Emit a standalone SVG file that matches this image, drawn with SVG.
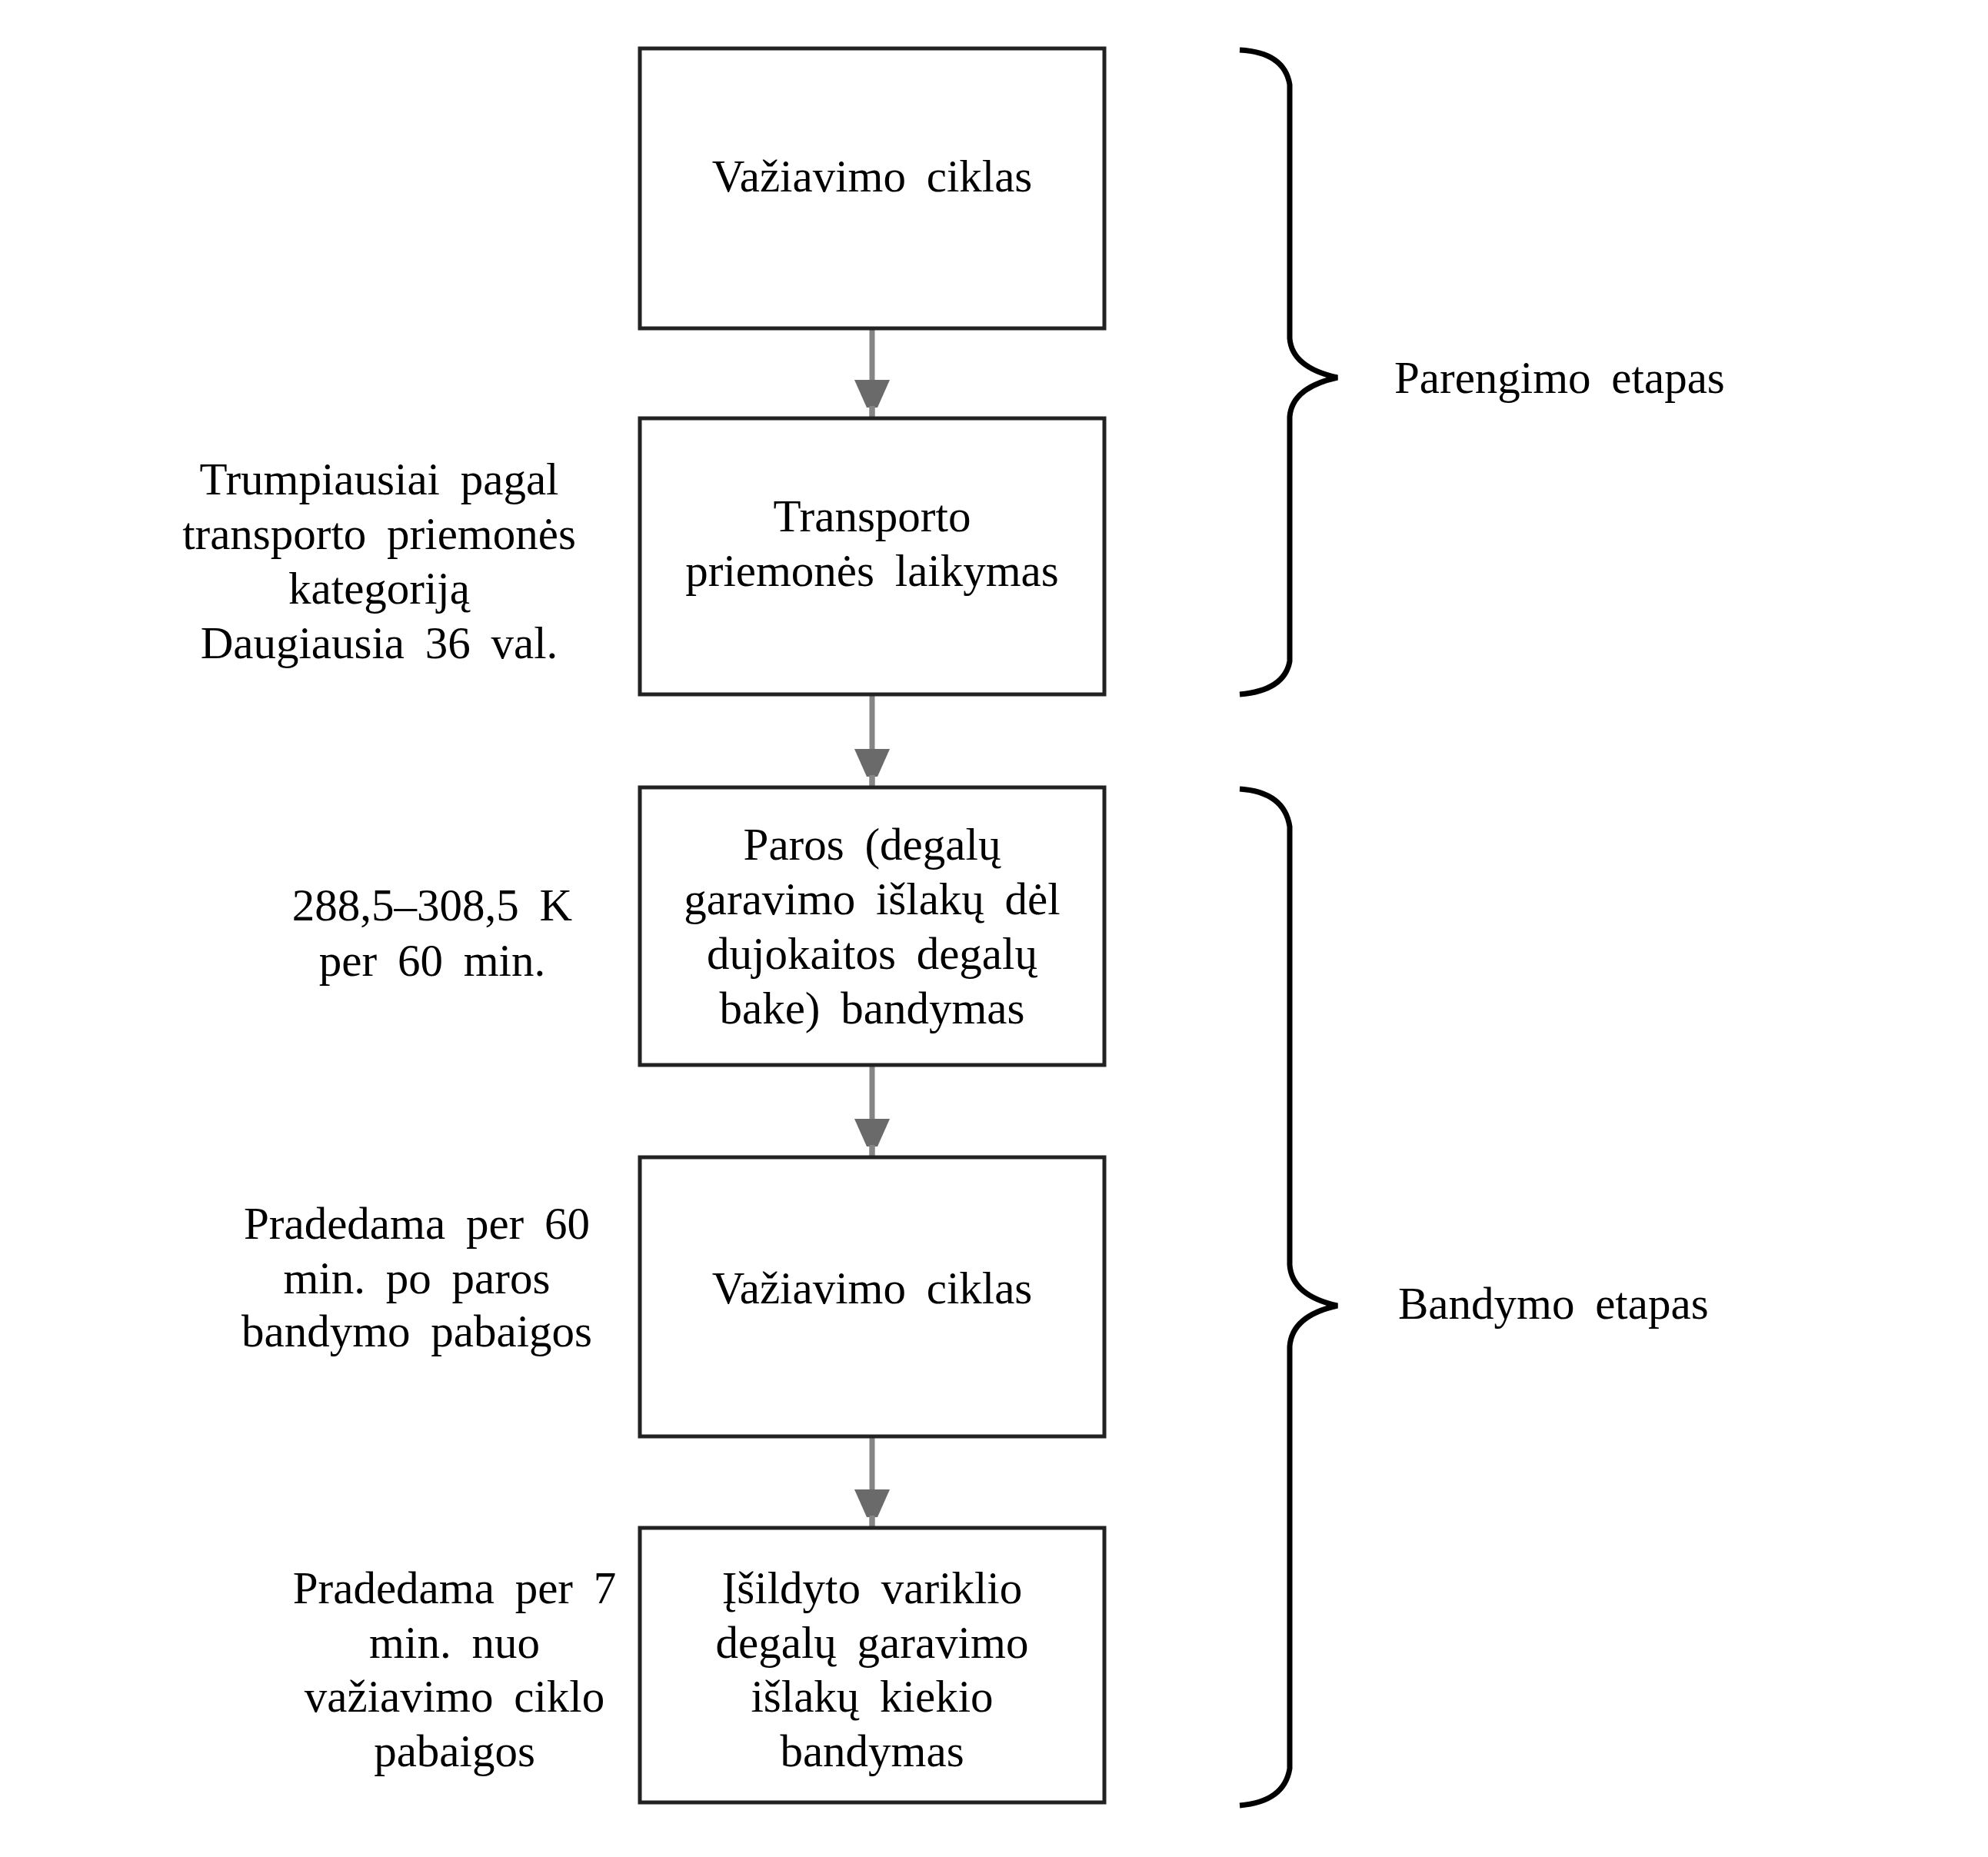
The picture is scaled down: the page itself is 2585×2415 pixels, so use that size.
<svg xmlns="http://www.w3.org/2000/svg" width="2585" height="2415" viewBox="0 0 2585 2415">
<style>
.box{fill:#fff;stroke:#222;stroke-width:5}
.t{font-family:"Liberation Serif","DejaVu Serif",serif;font-size:59px;fill:#000;text-anchor:middle;word-spacing:12px}
.lbl{font-family:"Liberation Serif","DejaVu Serif",serif;font-size:59px;fill:#000;word-spacing:12px}
.conn{stroke:#858585;stroke-width:7;fill:none}
.brace{stroke:#000;stroke-width:7;fill:none}
</style>
<defs>
<marker id="ah" markerUnits="userSpaceOnUse" markerWidth="52" markerHeight="48" refX="50" refY="23" orient="auto" viewBox="0 0 52 48">
<path d="M0 0 L0 46 L36 30 L36 16 Z" fill="#6a6a6a"/>
<rect x="34" y="19.5" width="16" height="7" fill="#858585"/>
</marker>
</defs>
<rect width="2585" height="2415" fill="#fff"/>
<g id="connectors">
<line class="conn" x1="1134" y1="427" x2="1134" y2="544" marker-end="url(#ah)"/>
<line class="conn" x1="1134" y1="903" x2="1134" y2="1024" marker-end="url(#ah)"/>
<line class="conn" x1="1134" y1="1385" x2="1134" y2="1505" marker-end="url(#ah)"/>
<line class="conn" x1="1134" y1="1868" x2="1134" y2="1987" marker-end="url(#ah)"/>
</g>
<g id="n1"><rect class="box" x="832" y="63" width="604" height="364"/>
<text class="t" x="1134" y="249">Važiavimo ciklas</text></g>
<g id="n2"><rect class="box" x="832" y="544" width="604" height="359"/>
<text class="t" x="1134" y="691">Transporto</text>
<text class="t" x="1134" y="762">priemonės laikymas</text></g>
<g id="n3"><rect class="box" x="832" y="1024" width="604" height="361"/>
<text class="t" x="1134" y="1118">Paros (degalų</text>
<text class="t" x="1134" y="1189">garavimo išlakų dėl</text>
<text class="t" x="1134" y="1260">dujokaitos degalų</text>
<text class="t" x="1134" y="1331">bake) bandymas</text></g>
<g id="n4"><rect class="box" x="832" y="1505" width="604" height="363"/>
<text class="t" x="1134" y="1695">Važiavimo ciklas</text></g>
<g id="n5"><rect class="box" x="832" y="1987" width="604" height="357"/>
<text class="t" x="1134" y="2085">Įšildyto variklio</text>
<text class="t" x="1134" y="2156">degalų garavimo</text>
<text class="t" x="1134" y="2226">išlakų kiekio</text>
<text class="t" x="1134" y="2297">bandymas</text></g>
<g id="note1">
<text class="t" x="493" y="643">Trumpiausiai pagal</text>
<text class="t" x="493" y="714">transporto priemonės</text>
<text class="t" x="493" y="785">kategoriją</text>
<text class="t" x="493" y="856">Daugiausia 36 val.</text></g>
<g id="note2">
<text class="t" x="562" y="1197">288,5–308,5 K</text>
<text class="t" x="562" y="1269">per 60 min.</text></g>
<g id="note3">
<text class="t" x="542" y="1611">Pradedama per 60</text>
<text class="t" x="542" y="1682">min. po paros</text>
<text class="t" x="542" y="1751">bandymo pabaigos</text></g>
<g id="note4">
<text class="t" x="591" y="2085">Pradedama per 7</text>
<text class="t" x="591" y="2156">min. nuo</text>
<text class="t" x="591" y="2226">važiavimo ciklo</text>
<text class="t" x="591" y="2297">pabaigos</text></g>
<g id="brace1">
<path class="brace" d="M1612 65 Q1670 68 1677 110 L1677 440 Q1680 478 1739 491 Q1680 504 1677 542 L1677 860 Q1670 898 1612 903"/>
<text class="lbl" x="1813" y="511">Parengimo etapas</text></g>
<g id="brace2">
<path class="brace" d="M1612 1026 Q1670 1030 1677 1075 L1677 1645 Q1680 1685 1739 1698 Q1680 1711 1677 1751 L1677 2300 Q1670 2343 1612 2348"/>
<text class="lbl" x="1818" y="1715">Bandymo etapas</text></g>
</svg>
